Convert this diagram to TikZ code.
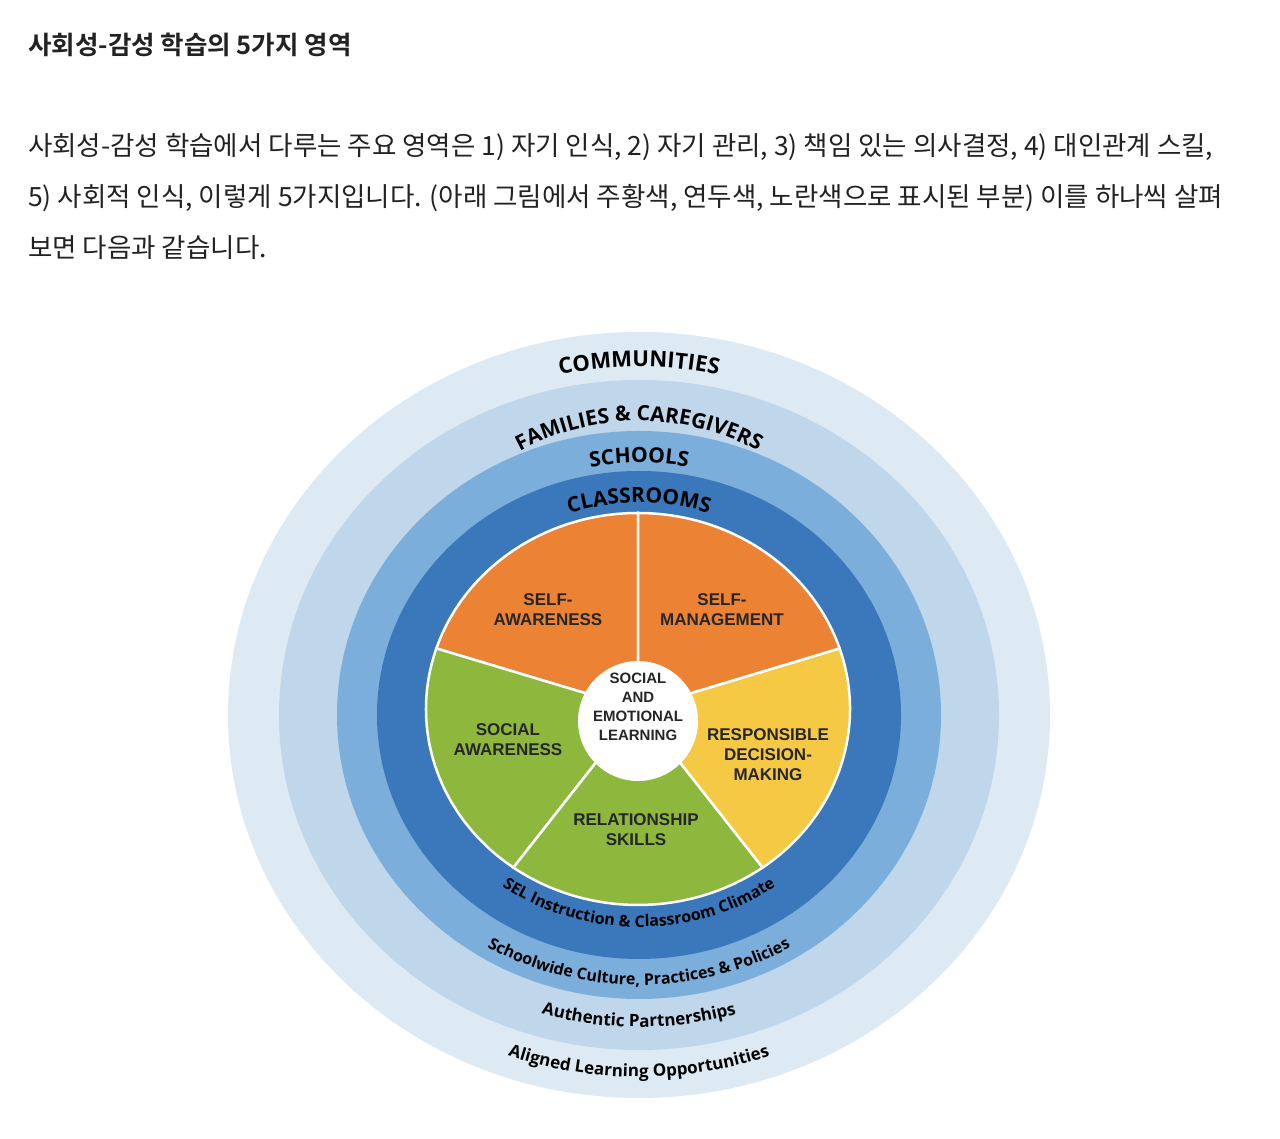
\documentclass[tikz,border=0pt]{standalone}
\usepackage{fontspec}
\setmainfont{Open Sans}
\newfontfamily\kr{Noto Sans CJK KR}
\newfontfamily\krb{Noto Sans CJK KR}[BoldFont={* Bold}]
\newfontfamily\lab{Open Sans}[BoldFont={* Bold}]
\newfontfamily\arl{Liberation Sans}
\usetikzlibrary{decorations.text}
\definecolor{cA}{HTML}{DDEAF3}
\definecolor{cB}{HTML}{BFD6EB}
\definecolor{cC}{HTML}{7BAEDB}
\definecolor{cD}{HTML}{3A78BB}
\definecolor{cO}{HTML}{EC8233}
\definecolor{cY}{HTML}{F5C944}
\definecolor{cG}{HTML}{8DB83D}
\definecolor{txt}{HTML}{222222}
\tikzset{
 sect/.style={draw=white,line width=2.5pt},
 pl/.style={font=\arl\bfseries\fontsize{17}{20}\selectfont,align=center,text=black!85},
 kline/.style={anchor=west,font=\kr\fontsize{26.5}{30}\selectfont,text=txt,inner sep=0pt},
}
\begin{document}
\begin{tikzpicture}[x=1pt,y=1pt]
\useasboundingbox (0,0) rectangle (1280,1139);
\fill[white] (0,0) rectangle (1280,1139);
\node[kline,font=\krb\bfseries\fontsize{25.5}{30}\selectfont] (title) at (28,1094) {사회성-감성 학습의 5가지 영역};
\node[kline] (l1) at (28,992) {사회성-감성 학습에서 다루는 주요 영역은 1) 자기 인식, 2) 자기 관리, 3) 책임 있는 의사결정, 4) 대인관계 스킬,};
\node[kline] (l2) at (28,941) {5) 사회적 인식, 이렇게 5가지입니다. (아래 그림에서 주황색, 연두색, 노란색으로 표시된 부분) 이를 하나씩 살펴};
\node[kline] (l3) at (28,891) {보면 다음과 같습니다.};
\coordinate (C) at (639,424);
\fill[cA] (C) ellipse[x radius=411,y radius=383];
\fill[cB] (C) ellipse[x radius=360,y radius=335];
\fill[cC] (C) ellipse[x radius=302,y radius=284];
\fill[cD] (C) ellipse[x radius=262,y radius=244];
% top arc texts
\path[decorate,decoration={text along path,text align=center,text={|\lab\bfseries\fontsize{22}{24}\selectfont|COMMUNITIES}}]
 (C) ++(160:372 and 348) arc[start angle=160,end angle=20,x radius=372,y radius=348];
\path[decorate,decoration={text along path,text align=center,text={|\lab\bfseries\fontsize{21}{24}\selectfont|FAMILIES {\&} CAREGIVERS}}]
 (C) ++(150:270 and 294) arc[start angle=150,end angle=30,x radius=270,y radius=294];
\path[decorate,decoration={text along path,text align=center,text={|\lab\bfseries\fontsize{21}{24}\selectfont|SCHOOLS}}]
 (C) ++(150:270 and 252) arc[start angle=150,end angle=30,x radius=270,y radius=252];
\path[decorate,decoration={text along path,text align=center,text={|\lab\bfseries\fontsize{21}{24}\selectfont|CLASSROOMS}}]
 (C) ++(150:228 and 212) arc[start angle=150,end angle=30,x radius=228,y radius=212];
% bottom arc texts
\path[decorate,decoration={text along path,text align=center,text={|\lab\bfseries\fontsize{16}{20}\selectfont|SEL Instruction {\&} Classroom Climate}}]
 (C) ++(205:232 and 212) arc[start angle=205,end angle=335,x radius=232,y radius=212];
\path[decorate,decoration={text along path,text align=center,text={|\lab\bfseries\fontsize{16}{20}\selectfont|Schoolwide Culture, Practices {\&} Policies}}]
 (C) ++(205:298 and 270) arc[start angle=205,end angle=335,x radius=298,y radius=270];
\path[decorate,decoration={text along path,text align=center,text={|\lab\bfseries\fontsize{17}{20}\selectfont|Authentic Partnerships}}]
 (C) ++(220:340 and 312) arc[start angle=220,end angle=320,x radius=340,y radius=312];
\path[decorate,decoration={text along path,text align=center,text={|\lab\bfseries\fontsize{17}{20}\selectfont|Aligned Learning Opportunities}}]
 (C) ++(215:390 and 362) arc[start angle=215,end angle=325,x radius=390,y radius=362];
% pie
\coordinate (P) at (638,430);
\filldraw[sect,fill=cO] (P) -- ++(90:212 and 196) arc[start angle=90,end angle=162,x radius=212,y radius=196] -- cycle;
\filldraw[sect,fill=cG] (P) -- ++(162:212 and 196) arc[start angle=162,end angle=234,x radius=212,y radius=196] -- cycle;
\filldraw[sect,fill=cG] (P) -- ++(234:212 and 196) arc[start angle=234,end angle=306,x radius=212,y radius=196] -- cycle;
\filldraw[sect,fill=cY] (P) -- ++(306:212 and 196) arc[start angle=306,end angle=378,x radius=212,y radius=196] -- cycle;
\filldraw[sect,fill=cO] (P) -- ++(18:212 and 196) arc[start angle=18,end angle=90,x radius=212,y radius=196] -- cycle;
\node[circle,fill=white,minimum size=120pt,inner sep=0pt] (core) at (638,418) {};
\node[pl,font=\arl\bfseries\fontsize{15}{19}\selectfont] (sel) at (638,432) {SOCIAL\\AND\\EMOTIONAL\\LEARNING};
\node[pl] (sa) at (548,529) {SELF-\\AWARENESS};
\node[pl] (sm) at (722,529) {SELF-\\MANAGEMENT};
\node[pl] (so) at (508,399) {SOCIAL\\AWARENESS};
\node[pl] (rd) at (768,384) {RESPONSIBLE\\DECISION-\\MAKING};
\node[pl] (rs) at (636,309) {RELATIONSHIP\\SKILLS};
\end{tikzpicture}
\end{document}
